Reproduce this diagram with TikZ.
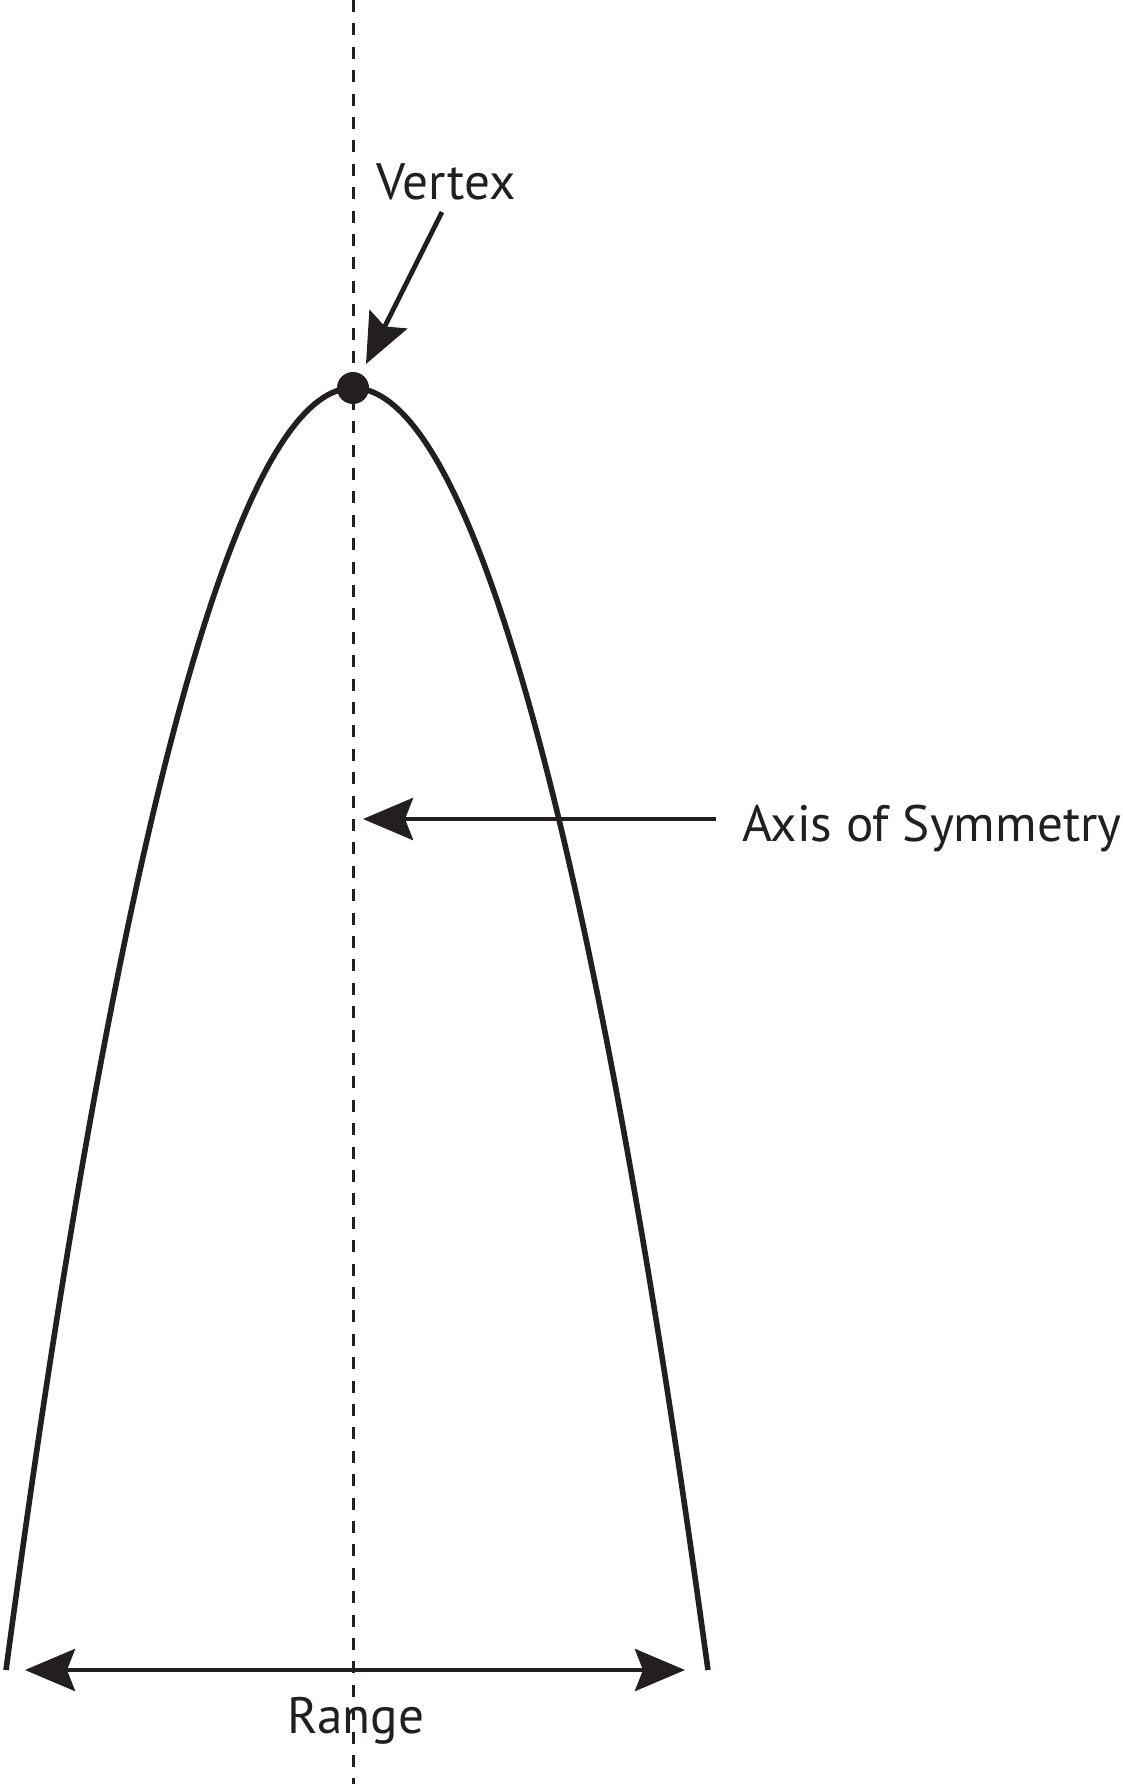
\documentclass[tikz,border=0pt]{standalone}
\usepackage{fontspec}
\setmainfont{PT Sans}
\usetikzlibrary{arrows.meta}
\definecolor{Tinta}{HTML}{231F20}

\begin{document}
\begin{tikzpicture}[x=0.5pt,y=-0.5pt,
    punta/.tip={Stealth[length=25pt,width=21pt,inset=4pt]},
    tag/.style={inner sep=0pt,text=Tinta,font=\fontsize{25.6}{31}\selectfont},
    curva/.style={draw=Tinta,line width=2.8pt},
    eje/.style={draw=Tinta,line width=1.5pt,dash pattern=on 6pt off 5.7pt},
    pointer/.style={-punta,line width=2.4pt,draw=Tinta},
    doble/.style={punta-punta,line width=2.4pt,draw=Tinta}]
    \useasboundingbox (0,0) rectangle (1123,1784);
    % labels
    \node[tag,anchor=base west] (vertexlabel) at (376,199) {Vertex};
    \node[tag,anchor=base west] (axislabel) at (742,841) {Axis of Symmetry};
    \node[tag,anchor=base] (rangelabel) at (356,1733) {Range};
    % parabola
    \coordinate (leftend) at (6,1670);
    \coordinate (rightend) at (708,1670);
    \draw[curva] (leftend) parabola bend (353,388) (rightend);
    % pointers
    \coordinate (vertextail) at (442,212);
    \coordinate (vertextip) at (366,364);
    \coordinate (axistail) at (716,819);
    \coordinate (axistip) at (363,819);
    \coordinate (rangeleft) at (25,1670);
    \coordinate (rangeright) at (685,1670);
    \draw[pointer] (vertextail) -- (vertextip);
    \draw[pointer] (axistail) -- (axistip);
    \draw[doble] (rangeleft) -- (rangeright);
    % axis of symmetry
    \coordinate (ejetop) at (353,0);
    \coordinate (ejebot) at (353,1784);
    \draw[eje] (ejetop) -- (ejebot);
    \node[circle,fill=Tinta,inner sep=0pt,minimum size=16pt] (vertex) at (353,388) {};
\end{tikzpicture}
\end{document}
